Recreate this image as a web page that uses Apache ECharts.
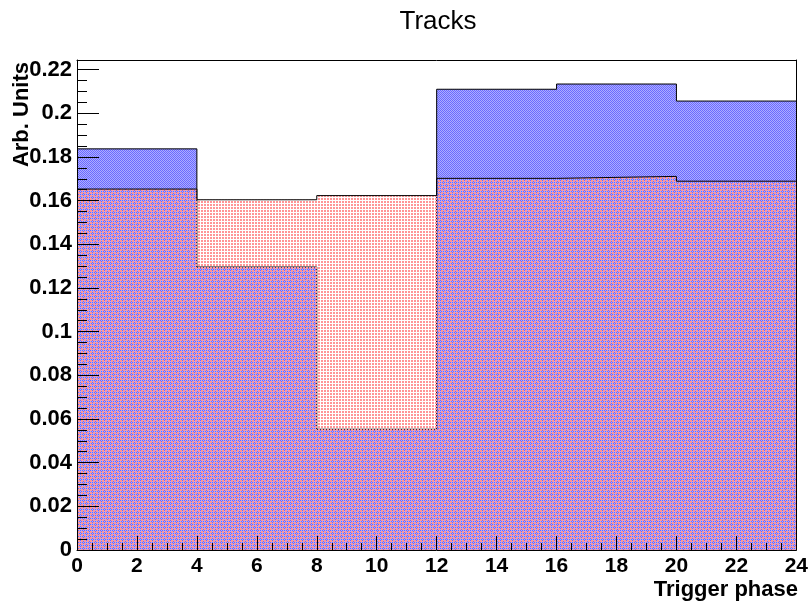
<!DOCTYPE html>
<html>
<head>
<meta charset="utf-8">
<title>Tracks</title>
<script src="https://cdn.jsdelivr.net/npm/echarts@6/dist/echarts.min.js"></script>
<style>
  html, body { margin: 0; padding: 0; background: #ffffff; }
  #chart { width: 811px; height: 602px; }
</style>
</head>
<body>
<div id="chart"></div>
<script>
// Histogram bin edges (trigger phase) and normalised contents per bin
const binEdges = [0, 4, 8, 12, 16, 20, 24];
const blueValues = [0.1837, 0.1296, 0.0553, 0.2110, 0.2134, 0.2056];
const redValues  = [0.1653, 0.1604, 0.1623, 0.1702, 0.1711, 0.1689];

// Axis tick labels
const xTickLabels = ['0', '2', '4', '6', '8', '10', '12', '14', '16', '18', '20', '22', '24'];
const yTickLabels = ['0', '0.02', '0.04', '0.06', '0.08', '0.1', '0.12', '0.14', '0.16', '0.18', '0.2', '0.22'];

const FONT = '"Liberation Sans", Arial, Helvetica, sans-serif';

// Step outline points: each bin value holds from its low edge to its high edge
function stepPoints(values) {
  const pts = values.map((v, i) => [binEdges[i], v]);
  pts.push([binEdges[binEdges.length - 1], values[values.length - 1]]);
  return pts;
}

// Small repeating tiles used as hatch-style fills
function blueTile() {
  const c = document.createElement('canvas');
  c.width = 2; c.height = 2;
  const g = c.getContext('2d');
  g.fillStyle = '#adadff'; g.fillRect(0, 0, 2, 2);
  g.fillStyle = '#6a6aff'; g.fillRect(0, 0, 1, 1); g.fillRect(1, 1, 1, 1);
  return c;
}
function redTile() {
  const c = document.createElement('canvas');
  c.width = 3; c.height = 3;
  const g = c.getContext('2d');
  g.clearRect(0, 0, 3, 3);
  g.fillStyle = '#ff9696'; g.fillRect(0, 0, 2, 2);
  return c;
}

const chart = echarts.init(document.getElementById('chart'), null, { renderer: 'canvas' });

const yMax = 0.2244;
const axisLabelStyle = { color: '#000', fontFamily: FONT, fontWeight: 'bold', fontSize: 21 };

chart.setOption({
  animation: false,
  backgroundColor: '#ffffff',
  grid: { left: 77, right: 12, top: 60, bottom: 52, show: false },
  graphic: [
    {
      type: 'text', x: 438, y: 9,
      style: { text: 'Tracks', font: '26px ' + FONT, fill: '#000', align: 'center', verticalAlign: 'top' }
    },
    {
      type: 'text', x: 798, y: 601,
      style: { text: 'Trigger phase', font: 'bold 22px ' + FONT, fill: '#000', align: 'right', verticalAlign: 'bottom' }
    },
    {
      type: 'text', x: 22, y: 62, rotation: Math.PI / 2,
      style: { text: 'Arb. Units', font: 'bold 22px ' + FONT, fill: '#000', align: 'right', verticalAlign: 'middle' }
    }
  ],
  xAxis: [
    {
      type: 'value', min: 0, max: 24, interval: 2, position: 'bottom', z: 10,
      axisLine: { show: true, onZero: false, lineStyle: { color: '#000', width: 1 } },
      axisTick: { show: true, inside: true, length: 14, lineStyle: { color: '#000', width: 1 } },
      minorTick: { show: true, splitNumber: 4, length: 7, lineStyle: { color: '#000', width: 1 } },
      splitLine: { show: false },
      axisLabel: Object.assign({ margin: 6, showMinLabel: true, showMaxLabel: true,
        formatter: (v, i) => xTickLabels[i] !== undefined ? xTickLabels[i] : '' }, axisLabelStyle)
    },
    {
      type: 'value', min: 0, max: 24, position: 'top', z: 10,
      axisLine: { show: true, onZero: false, lineStyle: { color: '#000', width: 1 } },
      axisTick: { show: false }, axisLabel: { show: false }, splitLine: { show: false }
    }
  ],
  yAxis: [
    {
      type: 'value', min: 0, max: yMax, interval: 0.02, position: 'left', z: 10,
      axisLine: { show: true, onZero: false, lineStyle: { color: '#000', width: 1 } },
      axisTick: { show: true, inside: true, length: 22, lineStyle: { color: '#000', width: 1 } },
      splitLine: { show: false },
      axisLabel: Object.assign({ margin: 5, showMinLabel: true, showMaxLabel: false,
        formatter: (v, i) => yTickLabels[i] !== undefined ? yTickLabels[i] : '' }, axisLabelStyle, { fontSize: 22 })
    },
    {
      // finer ticks between the labelled ones
      type: 'value', min: 0, max: yMax, interval: 0.005, position: 'left', z: 10,
      axisLine: { show: false },
      axisTick: { show: true, inside: true, length: 10, lineStyle: { color: '#000', width: 1 } },
      axisLabel: { show: false }, splitLine: { show: false }
    },
    {
      type: 'value', min: 0, max: yMax, position: 'right', z: 10,
      axisLine: { show: true, onZero: false, lineStyle: { color: '#000', width: 1 } },
      axisTick: { show: false }, axisLabel: { show: false }, splitLine: { show: false }
    }
  ],
  series: [
    {
      name: 'blue', type: 'line', step: 'end', xAxisIndex: 0, yAxisIndex: 0,
      data: stepPoints(blueValues), showSymbol: false, symbol: 'none',
      lineStyle: { color: '#000', width: 1 },
      areaStyle: { color: { image: blueTile(), repeat: 'repeat' }, opacity: 1 },
      z: 2
    },
    {
      name: 'red', type: 'line', step: 'end', xAxisIndex: 0, yAxisIndex: 0,
      data: stepPoints(redValues), showSymbol: false, symbol: 'none',
      lineStyle: { color: '#000', width: 1 },
      areaStyle: { color: { image: redTile(), repeat: 'repeat' }, opacity: 1 },
      z: 3
    }
  ]
});
</script>
</body>
</html>
